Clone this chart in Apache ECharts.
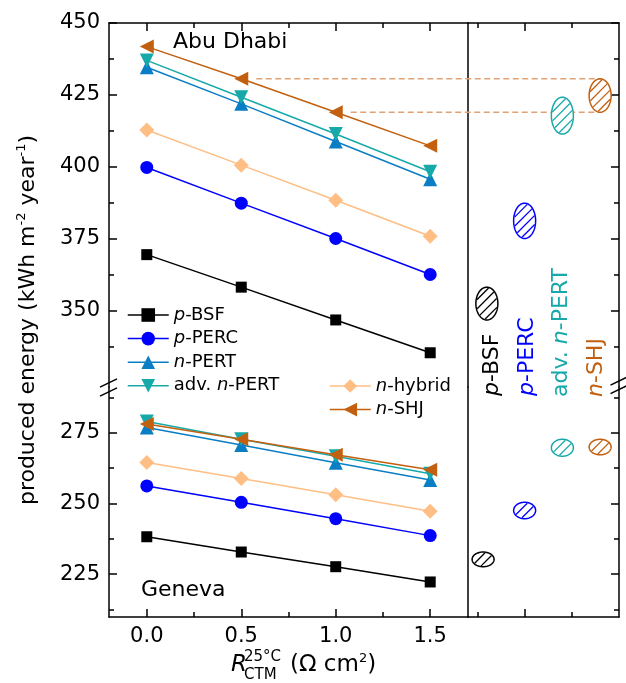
<!DOCTYPE html>
<html><head><meta charset="utf-8">
<script src="https://cdn.jsdelivr.net/npm/echarts@6/dist/echarts.min.js"></script>
<style>html,body{margin:0;padding:0;background:#fff}#c{width:626px;height:683px}</style>
</head><body><div id="c"></div>
<script>
// ---------------- data ----------------
const R_CTM = [0, 0.5, 1.0, 1.5];
const TECH = ['p-BSF', 'p-PERC', 'n-PERT', 'adv. n-PERT', 'n-hybrid', 'n-SHJ'];
// Abu Dhabi (top panel)
const ABU_PBSF      = [369.5, 358.2, 346.8, 335.4];
const ABU_PPERC     = [399.8, 387.4, 375.1, 362.6];
const ABU_NPERT     = [434.6, 421.9, 408.8, 395.7];
const ABU_ADVNPERT  = [437.0, 424.2, 411.4, 398.3];
const ABU_NHYBRID   = [412.8, 400.6, 388.4, 375.9];
const ABU_NSHJ      = [441.8, 430.6, 419.0, 407.3];
// Geneva (bottom panel)
const GEN_PBSF      = [238.2, 232.8, 227.6, 222.2];
const GEN_PPERC     = [256.2, 250.4, 244.6, 238.6];
const GEN_NPERT     = [276.9, 270.7, 264.4, 258.3];
const GEN_ADVNPERT  = [279.0, 272.7, 266.7, 260.5];
const GEN_NHYBRID   = [264.5, 258.8, 253.1, 247.2];
const GEN_NSHJ      = [278.1, 272.7, 267.2, 261.9];
// right panel: ranges (R = 0.5 ... 1.0)
const RANGE_TECH     = ['p-BSF', 'p-PERC', 'adv. n-PERT', 'n-SHJ'];
const ABU_RANGE_POS  = [0.6, 1.0, 1.4, 1.8];
const ABU_RANGE_LOW  = [346.8, 375.1, 411.4, 419.0];
const ABU_RANGE_HIGH = [358.2, 387.4, 424.2, 430.6];
const GEN_RANGE_POS  = [0.56, 1.0, 1.4, 1.8];
const GEN_RANGE_LOW  = [227.6, 244.6, 266.7, 267.2];
const GEN_RANGE_HIGH = [232.8, 250.4, 272.7, 272.7];
// dashed guides from n-SHJ points to its range ellipse
const DASH_FROM_R = [0.5, 1.0];
const DASH_VALUE  = [430.6, 419.0];
// ticks
const Y_TOP_MAJOR = [350, 375, 400, 425, 450];
const Y_TOP_MINOR = [337.5, 362.5, 387.5, 412.5, 437.5];
const Y_BOT_MAJOR = [225, 250, 275];
const Y_BOT_MINOR = [212.5, 237.5, 262.5, 287.5];
const X_MAJOR = [0, 0.5, 1.0, 1.5];
const X_MINOR = [0.25, 0.75, 1.25];
const RX_MAJOR = [1.0];
const RX_MINOR = [0.5, 1.5];

// ---------------- styles ----------------
const FONT = 'DejaVu Sans';
const COLORS = {
  'p-BSF': '#000000', 'p-PERC': '#0000FF', 'n-PERT': '#0A7EC4',
  'adv. n-PERT': '#17A9A9', 'n-hybrid': '#FFBE84', 'n-SHJ': '#C2600F'
};
const SYMBOLS = {
  'p-BSF': ['rect', 11, 0], 'p-PERC': ['circle', 13, 0], 'n-PERT': ['triangle', 14, 0],
  'adv. n-PERT': ['triangle', 14, 180], 'n-hybrid': ['diamond', 15, 0], 'n-SHJ': ['triangle', 14, 90]
};
const ABU = [ABU_PBSF, ABU_PPERC, ABU_NPERT, ABU_ADVNPERT, ABU_NHYBRID, ABU_NSHJ];
const GEN = [GEN_PBSF, GEN_PPERC, GEN_NPERT, GEN_ADVNPERT, GEN_NHYBRID, GEN_NSHJ];

const TOP = {min: 323.5, max: 450};
const BOT = {min: 209.8, max: 291.2};
const XR = {min: -0.2, max: 1.7};
const RXR = {min: 0.4, max: 2.0};

const lineSt = {color: '#000', width: 1.5};
function xAx(grid, pos, ticks, len, labels, showLine, r) {
  return {
    type: 'value', gridIndex: grid, position: pos, min: r.min, max: r.max,
    axisLine: {show: showLine, onZero: false, lineStyle: lineSt},
    axisTick: {show: true, inside: true, length: len, customValues: ticks, lineStyle: lineSt},
    axisLabel: {show: labels, customValues: ticks, margin: 9, color: '#000',
      fontFamily: FONT, fontSize: 21, formatter: v => v.toFixed(1)},
    splitLine: {show: false}
  };
}
function yAx(grid, pos, ticks, len, labels, showLine, r, showTicks) {
  return {
    type: 'value', gridIndex: grid, position: pos, min: r.min, max: r.max,
    axisLine: {show: showLine, onZero: false, lineStyle: lineSt},
    axisTick: {show: showTicks !== false, inside: true, length: len, customValues: ticks, lineStyle: lineSt},
    axisLabel: {show: labels, customValues: ticks, margin: 9, color: '#000',
      fontFamily: FONT, fontSize: 21, formatter: v => String(v)},
    splitLine: {show: false}
  };
}

const grids = [
  {left: 109, top: 23, width: 359, height: 364},
  {left: 109, top: 387, width: 359, height: 230},
  {left: 468, top: 23, width: 151, height: 364},
  {left: 468, top: 387, width: 151, height: 230}
].map(g => Object.assign({containLabel: false, outerBoundsMode: 'none'}, g));

const xAxes = [
  xAx(0, 'top', X_MAJOR, 8, false, true, XR),       // 0
  xAx(0, 'top', X_MINOR, 5, false, false, XR),      // 1
  xAx(1, 'bottom', X_MAJOR, 8, true, true, XR),     // 2
  xAx(1, 'bottom', X_MINOR, 5, false, false, XR),   // 3
  xAx(2, 'top', RX_MAJOR, 8, false, true, RXR),     // 4
  xAx(2, 'top', RX_MINOR, 5, false, false, RXR),    // 5
  xAx(3, 'bottom', RX_MAJOR, 8, false, true, RXR),  // 6
  xAx(3, 'bottom', RX_MINOR, 5, false, false, RXR)  // 7
];
const yAxes = [
  yAx(0, 'left', Y_TOP_MAJOR, 8, true, true, TOP),    // 0
  yAx(0, 'left', Y_TOP_MINOR, 5, false, false, TOP),  // 1
  yAx(1, 'left', Y_BOT_MAJOR, 8, true, true, BOT),    // 2
  yAx(1, 'left', Y_BOT_MINOR, 5, false, false, BOT),  // 3
  yAx(2, 'left', [], 0, false, true, TOP, false),     // 4 divider
  yAx(2, 'right', Y_TOP_MAJOR, 8, false, true, TOP),  // 5
  yAx(2, 'right', Y_TOP_MINOR, 5, false, false, TOP), // 6
  yAx(3, 'left', [], 0, false, true, BOT, false),     // 7 divider
  yAx(3, 'right', Y_BOT_MAJOR, 8, false, true, BOT),  // 8
  yAx(3, 'right', Y_BOT_MINOR, 5, false, false, BOT)  // 9
];

function lineSeries(name, vals, xi, yi) {
  const s = SYMBOLS[name];
  return {
    type: 'line', name: name, xAxisIndex: xi, yAxisIndex: yi,
    data: R_CTM.map((r, i) => [r, vals[i]]),
    symbol: s[0], symbolSize: s[1], symbolRotate: s[2], symbolKeepAspect: true,
    showAllSymbol: true, clip: false,
    itemStyle: {color: COLORS[name]},
    lineStyle: {color: COLORS[name], width: 1.5},
    emphasis: {disabled: true}, animation: false
  };
}

const ELL_HALF_W = 11;
function ellipseRender(params, api) {
  const x = api.value(0), lo = api.value(1), hi = api.value(2);
  const name = RANGE_TECH[params.dataIndex];
  const color = COLORS[name];
  const pt = api.coord([x, hi]), pb = api.coord([x, lo]);
  const cx = pt[0], cy = (pt[1] + pb[1]) / 2;
  const a = ELL_HALF_W, b = Math.abs(pb[1] - pt[1]) / 2;
  const children = [];
  const pts = [];
  for (let t = 0; t < 72; t++) {
    const th = t / 72 * 2 * Math.PI;
    pts.push([cx + a * Math.cos(th), cy + b * Math.sin(th)]);
  }
  children.push({type: 'polygon', shape: {points: pts}, style: {fill: '#fff', stroke: color, lineWidth: 1.5}});
  const aa = a - 0.7, bb = b - 0.7;
  const A = 1 / (aa * aa) + 1 / (bb * bb), B = 1 / (aa * aa) - 1 / (bb * bb);
  const sp = 6.5, r2 = Math.SQRT1_2;
  for (let j = -6; j < 6; j++) {
    const k = sp * (j + 0.5);
    const disc = k * k * (B * B - A * A) + 2 * A;
    if (disc <= 0) continue;
    const sq = Math.sqrt(disc);
    const s1 = (-k * B - sq) / A, s2 = (-k * B + sq) / A;
    children.push({type: 'line', shape: {
      x1: cx + (k + s1) * r2, y1: cy + (k - s1) * r2,
      x2: cx + (k + s2) * r2, y2: cy + (k - s2) * r2
    }, style: {stroke: color, lineWidth: 1.3}});
  }
  return {type: 'group', children: children};
}
function ellipseSeries(pos, lo, hi, xi, yi) {
  return {
    type: 'custom', xAxisIndex: xi, yAxisIndex: yi, clip: false,
    data: pos.map((p, i) => [p, lo[i], hi[i]]),
    encode: {x: 0, y: [1, 2]},
    renderItem: ellipseRender, animation: false, silent: true, z: 3
  };
}

const series = [];
TECH.forEach((t, i) => series.push(lineSeries(t, ABU[i], 0, 0)));
TECH.forEach((t, i) => series.push(lineSeries(t, GEN[i], 2, 2)));
series.push(ellipseSeries(ABU_RANGE_POS, ABU_RANGE_LOW, ABU_RANGE_HIGH, 4, 5));
series.push(ellipseSeries(GEN_RANGE_POS, GEN_RANGE_LOW, GEN_RANGE_HIGH, 6, 8));

function italicPrefix(name) {
  return name.replace(/^(adv\. )?([pn])-/, (m, a, l) => (a || '') + '{i|' + l + '}-');
}
const legendText = {
  fontFamily: FONT, fontSize: 18, color: '#000', lineHeight: 18,
  rich: {i: {fontFamily: FONT, fontSize: 18, fontStyle: 'italic', color: '#000'}}
};
const legendBase = {
  orient: 'vertical', itemWidth: 41, itemHeight: 17, itemGap: 5.6, textStyle: legendText,
  formatter: italicPrefix, selectedMode: false, padding: 0, lineStyle: {width: 1.5}
};
const legends = [
  Object.assign({data: ['p-BSF', 'p-PERC', 'n-PERT', 'adv. n-PERT'], left: 127, top: 306}, legendBase),
  Object.assign({data: ['n-hybrid', 'n-SHJ'], left: 329, top: 377}, legendBase)
];

function txt(x, y, text, opt) {
  return {type: 'text', x: x, y: y, silent: true, z: 100,
    style: Object.assign({text: text, fontFamily: FONT, fontSize: 22, fill: '#000',
      align: 'left', verticalAlign: 'middle'}, opt || {})};
}
function slash(x, y) {
  return {type: 'line', silent: true, z: 100,
    shape: {x1: x - 8.5, y1: y + 4.2, x2: x + 8.5, y2: y - 4.2},
    style: {stroke: '#000', lineWidth: 1.5}};
}
const supRich = {
  sup: {fontFamily: FONT, fontSize: 13, verticalAlign: 'top', lineHeight: 26, padding: [0, 0, 0, 0]},
  i: {fontFamily: FONT, fontSize: 22, fontStyle: 'italic'}
};
function rotLabel(x, y, text, color) {
  return {type: 'text', x: x, y: y, rotation: Math.PI / 2, silent: true, z: 100,
    style: {text: text, fontFamily: FONT, fontSize: 22, fill: color, align: 'left', verticalAlign: 'middle',
      rich: {i: {fontFamily: FONT, fontSize: 22, fontStyle: 'italic', fill: color}}}};
}
const staticGraphics = [
  txt(173, 42, 'Abu Dhabi'),
  txt(141, 590, 'Geneva'),
  slash(108.5, 383), slash(108.5, 392),
  slash(619, 381), slash(619, 389.5),
  rotLabel(492, 396, '{i|p}-BSF', COLORS['p-BSF']),
  rotLabel(527.5, 396, '{i|p}-PERC', COLORS['p-PERC']),
  rotLabel(561, 397, 'adv. {i|n}-PERT', COLORS['adv. n-PERT']),
  rotLabel(596, 397, '{i|n}-SHJ', COLORS['n-SHJ']),
  // y axis title
  {type: 'text', x: 28, y: 320, rotation: Math.PI / 2, silent: true, z: 100,
   style: {text: 'produced energy (kWh m{sup|-2} year{sup|-1})', fontFamily: FONT, fontSize: 22,
     fill: '#000', align: 'center', verticalAlign: 'middle', lineHeight: 26, rich: supRich}},
  // x axis title
  txt(231, 665, 'R', {fontStyle: 'italic', fontSize: 23}),
  txt(244, 657, '25°C', {fontSize: 15}),
  txt(244, 675, 'CTM', {fontSize: 15}),
  {type: 'text', x: 290, y: 665, silent: true, z: 100,
   style: {text: '(Ω cm{sup|2})', fontFamily: FONT, fontSize: 23, fill: '#000', align: 'left',
     verticalAlign: 'middle', lineHeight: 26, rich: supRich}}
];

const chart = echarts.init(document.getElementById('c'), null, {renderer: 'canvas'});
const option = {
  animation: false,
  backgroundColor: '#fff',
  grid: grids,
  xAxis: xAxes,
  yAxis: yAxes,
  legend: legends,
  series: series,
  graphic: staticGraphics
};
chart.setOption(option);

const dash = DASH_FROM_R.map((r, i) => {
  const v = DASH_VALUE[i];
  const p0 = chart.convertToPixel({xAxisIndex: 0, yAxisIndex: 0}, [r, v]);
  const p1 = chart.convertToPixel({xAxisIndex: 4, yAxisIndex: 5}, [ABU_RANGE_POS[3], v]);
  return {type: 'line', silent: true, z: 1,
    shape: {x1: p0[0] + 15, y1: p0[1], x2: p1[0], y2: p1[1]},
    style: {stroke: '#DFA274', lineWidth: 1.5, lineDash: [6, 3.5]}};
});
chart.setOption({graphic: staticGraphics.concat(dash)});
</script></body></html>
